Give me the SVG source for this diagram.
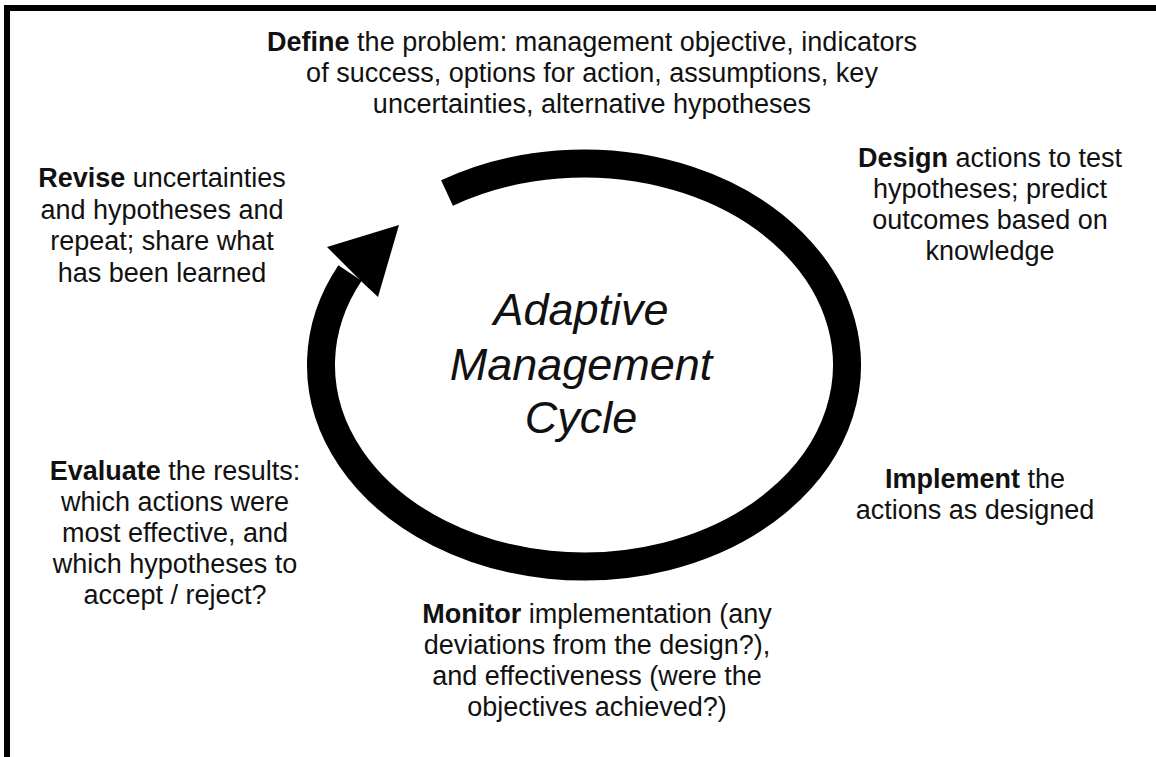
<svg xmlns="http://www.w3.org/2000/svg" width="1156" height="757" viewBox="0 0 1156 757">
<style>
.t{font-family:"Liberation Sans",Arial,sans-serif;font-size:27px;fill:#111;text-anchor:middle}
.b{font-weight:bold}
.c{font-family:"Liberation Sans",Arial,sans-serif;font-size:45px;font-style:italic;fill:#111;text-anchor:middle}
</style>
<rect x="0" y="0" width="1156" height="757" fill="#fff"/>
<g id="frame">
<rect x="4" y="5" width="1152" height="6" fill="#000"/>
<rect x="4" y="5" width="6" height="752" fill="#000"/>
</g>
<g id="connectors">
<path d="M 447 193 A 263 201.5 0 1 1 350 273" fill="none" stroke="#000" stroke-width="28"/>
<polygon points="399,225 327,247 340,260 362,282 378,297" fill="#000"/>
</g>
<g id="center">
<text class="c" x="581" y="325">Adaptive</text>
<text class="c" x="581" y="380">Management</text>
<text class="c" x="581" y="433">Cycle</text>
</g>
<g id="define">
<text class="t" x="592" y="51"><tspan class="b">Define</tspan> the problem: management objective, indicators</text>
<text class="t" x="592" y="82">of success, options for action, assumptions, key</text>
<text class="t" x="592" y="113">uncertainties, alternative hypotheses</text>
</g>
<g id="design">
<text class="t" x="990" y="167"><tspan class="b">Design</tspan> actions to test</text>
<text class="t" x="990" y="198">hypotheses; predict</text>
<text class="t" x="990" y="229">outcomes based on</text>
<text class="t" x="990" y="260">knowledge</text>
</g>
<g id="implement">
<text class="t" x="975" y="488"><tspan class="b">Implement</tspan> the</text>
<text class="t" x="975" y="519">actions as designed</text>
</g>
<g id="monitor">
<text class="t" x="597" y="623"><tspan class="b">Monitor</tspan> implementation (any</text>
<text class="t" x="597" y="654">deviations from the design?),</text>
<text class="t" x="597" y="685">and effectiveness (were the</text>
<text class="t" x="597" y="716">objectives achieved?)</text>
</g>
<g id="evaluate">
<text class="t" x="175" y="480"><tspan class="b">Evaluate</tspan> the results:</text>
<text class="t" x="175" y="511">which actions were</text>
<text class="t" x="175" y="542">most effective, and</text>
<text class="t" x="175" y="573">which hypotheses to</text>
<text class="t" x="175" y="604">accept / reject?</text>
</g>
<g id="revise">
<text class="t" x="162" y="187"><tspan class="b">Revise</tspan> uncertainties</text>
<text class="t" x="162" y="218.5">and hypotheses and</text>
<text class="t" x="162" y="250">repeat; share what</text>
<text class="t" x="162" y="281.5">has been learned</text>
</g>
</svg>
